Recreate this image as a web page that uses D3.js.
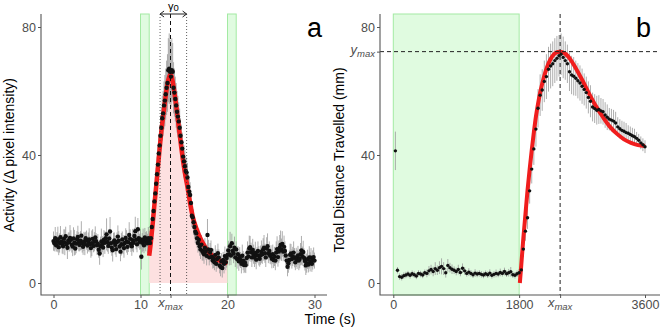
<!DOCTYPE html>
<html>
<head>
<meta charset="utf-8">
<script src="https://cdn.jsdelivr.net/npm/d3@7/dist/d3.min.js"></script>
<style>
body { margin: 0; background: #fff; }
text { font-family: "Liberation Sans", Arial, sans-serif; }
</style>
</head>
<body>
<div class="chart"></div>
<script>
// ---------- panel a : activity, sampled every 0.1 s from 0 to 30 s ----------
let stepA = 0.1
let activity = [
    13.1,12.4,14.0,11.8,12.9,13.6,11.2,12.5,14.3,13.0,12.2,
    11.5,13.8,12.7,14.6,12.1,11.0,13.3,12.8,14.1,13.5,
    12.0,11.4,13.9,12.6,10.8,12.3,13.7,14.4,12.9,11.9,
    13.2,14.8,12.5,11.3,13.0,12.2,14.0,13.4,11.7,12.8,
    13.6,12.1,10.9,12.4,13.8,11.6,12.9,14.2,13.1,11.8,
    12.3,10.4,9.2,11.5,13.0,12.2,11.1,13.5,12.6,14.0,
    15.2,12.8,11.6,13.9,16.1,12.4,11.0,10.2,12.7,13.3,
    11.9,10.6,12.8,14.5,13.2,11.4,9.8,12.1,13.6,12.0,
    10.9,12.5,14.1,13.0,11.3,12.7,15.0,13.8,12.2,11.5,
    13.4,12.6,14.7,16.2,13.5,12.1,16.8,14.0,12.9,13.6,
    8.2,12.6,13.5,11.8,14.2,12.9,13.7,12.4,14.0,13.3,
    12.5,14.0,17.5,20.0,22.5,25.5,28.0,31.0,34.0,37.0,
    40.5,43.0,46.0,48.5,51.5,53.0,55.5,57.0,59.0,61.0,
    62.5,66.5,67.0,66.0,64.5,66.5,66.0,61.0,59.5,57.5,
    55.5,53.5,52.0,50.5,48.5,46.0,44.0,42.0,39.5,38.0,
    36.5,35.0,34.5,33.0,30.0,28.5,27.5,25.0,21.0,20.5,
    19.0,17.5,16.0,15.5,14.0,12.5,13.5,11.5,10.5,12.0,
    10.0,9.5,9.0,11.0,9.8,8.5,15.0,10.5,8.0,9.5,
    10.3,8.2,7.0,7.7,6.5,8.8,6.0,7.5,9.3,8.0,
    5.5,5.1,6.8,4.7,7.2,6.0,8.4,6.5,7.8,8.8,
    10.2,9.0,11.5,8.6,12.4,10.0,9.2,11.0,8.0,10.5,
    7.5,9.0,6.8,8.2,7.2,6.0,8.5,7.0,5.6,6.4,
    5.6,7.8,9.5,8.3,10.8,11.2,9.6,8.0,10.3,9.0,
    8.0,9.4,7.3,8.7,10.0,8.5,7.6,8.7,9.8,9.0,
    10.5,11.0,9.3,8.0,10.8,11.5,9.2,10.0,8.5,8.8,
    7.6,9.0,7.2,8.3,7.0,9.5,10.6,8.1,9.8,11.0,
    11.9,10.4,12.2,9.8,11.3,10.0,8.6,7.0,5.1,6.2,
    7.2,8.8,9.2,7.5,8.3,9.5,7.9,6.5,8.0,7.4,
    8.6,7.0,7.6,9.0,10.2,8.4,9.7,7.8,6.9,5.5,
    6.2,7.4,5.8,8.0,6.6,7.9,6.0,7.2,8.1,7.0
]
let activityErr = [
    3,2.5,3.5,2,3,4,2.5,3,3.5,2,3,
    2.5,3,4,3,2,3.5,2.5,3,4,3,
    2.5,3,3.5,4,2,3,2.5,3.5,3,2,
    3,4.5,3,2.5,3,3.5,2,3,2.5,3,
    3.5,2.5,3,4,3,2,3,3.5,2.5,3,
    3,2.5,3.5,3,4,2.5,3,3,3.5,2,
    5,3,2.5,3,4.5,3,2.5,3.5,3,2.5,
    3,2.5,3,3.5,3,2,3,3.5,2.5,3,
    3,2.5,3,3.5,2.5,3,4,3,2.5,3,
    3.5,3,2.5,4.5,3,2.5,3.5,3,2.5,3,
    4,3,3.5,2.5,3,3,2.5,3,3.5,3,
    3,3.5,4,4,4.5,4.5,5,5,5.5,5.5,
    6,6,6.5,6.5,7,7,7.5,8,8,8.5,
    9,10,11,10,9.5,10,9,8,7.5,7,
    7,6.5,6.5,6,6,5.5,5.5,5,5,5,
    5,4.5,4.5,4.5,4,4,4,4,3.5,3.5,
    4,3.5,3.5,3.5,3,3,3.5,3,3,3,
    3,2.5,3,3,2.5,3,5,3,2.5,3,
    3,2.5,2.5,3,2.5,3,2.5,3,3,2.5,
    2.5,3,2.5,3,2.5,3,3,2.5,3,3,
    3,3.5,4.5,3,3,2.5,3,3.5,3,2.5,
    3,2.5,3,3,2.5,3,3.5,3,2.5,3,
    2.5,3,3.5,3,4,3.5,3,3,3.5,3,
    3,3.5,3,2.5,3,3,2.5,3,3.5,3,
    3.5,4,3,3,3.5,4,3,3,2.5,3,
    3,3,2.5,3,3,3.5,4,3,3.5,4,
    4.5,3.5,4,3,3.5,3,3,2.5,3,3,
    3,3.5,3,3,3,3.5,3,2.5,3,3,
    3,3,3,3.5,4.5,3,3.5,3,3,3,
    3,3,2.5,3.5,3,3,2.5,3,3,2.5
]
// fitted curve
let fitATime = [11.0,11.2,11.4,11.6,11.8,12.0,12.2,12.4,12.6,12.8,13.0,13.2,13.45,13.7,13.9,14.1,14.3,14.5,14.7,14.9,15.1,15.4,15.7,16.0,16.4,16.8,17.2,17.6,18.0,18.5,19.0,19.5,20.0]
let fitAValue = [8.5,13,18.5,24.5,30,36,42,47.5,52,56.5,60.5,63.5,65.2,63,59.5,55.5,51,46.5,42,38,34.5,30,25,20.8,17.2,14.5,12.3,10.5,9.2,8.0,7.1,6.6,6.2]
let stimA = [[10, 11], [20, 21]]
let xmaxA = 13.45
let gammaA = [12.25, 15.3]
let ticksXA = [0, 10, 20, 30]
let ticksY = [0, 40, 80]

// ---------- panel b : distance, every 30 s ----------
let timeB = d3.range(30, 3601, 30)
let distance = [
    41.3,
    4.0,2.0,1.8,2.3,2.5,2.8,2.4,2.9,2.6,2.2,
    3.0,2.8,2.5,3.2,3.0,3.8,4.2,3.6,4.5,4.0,
    4.8,5.2,4.5,3.2,5.5,4.8,4.3,4.0,3.6,4.2,
    3.3,4.6,3.8,3.0,3.4,3.0,2.6,3.1,2.8,3.0,
    2.7,2.5,2.9,2.6,3.1,2.4,2.7,3.0,2.8,3.3,
    3.0,3.6,2.9,3.2,3.5,2.6,2.4,2.9,3.2,
    4.1,10.6,16.2,20.4,28.8,35.6,41.9,48.1,54.6,58.7,
    60.3,63.0,64.5,66.8,67.8,68.5,69.5,70.2,71.0,71.5,
    70.5,69.5,68.5,66.0,65.0,64.6,64.0,63.2,62.5,61.5,
    60.5,59.5,58.0,56.8,55.0,54.5,54.0,54.2,53.8,53.5,
    52.5,51.8,51.2,50.9,50.6,50.0,48.8,48.2,47.7,47.4,
    47.0,46.8,46.4,46.0,45.7,45.2,44.6,43.8,43.2,42.6
]
let distanceErr = [
    6,
    1,1,1,1,1,1,1,1,1,1,
    1,1,1,1,1.2,1.5,1.5,1.5,2,1.5,
    2,2.5,2,1.5,2,1.5,1.5,1.2,1.2,1.5,
    1.2,1.5,1.2,1,1.2,1,1,1.2,1,1,
    1,1,1,1,1.2,1,1,1.2,1,1.2,
    1,1.2,1,1.2,1.5,1,1,1,1.2,
    1.5,2.5,3,3.5,4,4.5,5,5.5,6,6.5,
    6.5,6.5,7,7,7,7,7,7,6.5,6.5,
    6.5,6,6,6,6,6,5.5,5.5,5.5,5.5,
    5,5,5,5,4.5,4.5,4.5,4.5,4,4,
    4,4,3.5,3.5,3.5,3.5,3,3,3,3,
    3,2.5,2.5,2.5,2.5,2,2,2,2,2
]
let fitBTime = [1810,1830,1860,1890,1920,1950,1980,2010,2040,2070,2100,2150,2200,2250,2300,2350,2386,2450,2500,2550,2600,2700,2800,2900,3000,3100,3200,3300,3400,3500,3600]
let fitBValue = [0,5.5,14,21.5,29,35.5,41.5,47,52,56,59.5,64,67.5,70,71.5,72.2,72.3,71.8,70.8,69.3,67.5,63.5,59.2,55.2,51.8,48.8,46.6,44.9,43.8,43.1,42.8]
let stimB = [0, 1800]
let xmaxB = 2386
let ymaxB = 72.3
let ticksXB = [0, 1800, 3600]

//global sizes
let svgWidth = 660
let svgHeight = 329
let plotTop = 14, plotBottom = 295

let svg = d3.select('.chart')
    .append('svg')
    .attr('width', svgWidth)
    .attr('height', svgHeight)

let yScale = d3.scaleLinear().domain([0, 80]).range([283, 27])
let xA = d3.scaleLinear().domain([0, 30]).range([53.5, 314.5])
let xB = d3.scaleLinear().domain([0, 3600]).range([393.3, 645])

let red = '#f01d1d'
let greenFill = '#e0fbe0', greenLine = '#a3eaa3'
let axisGrey = '#555'

// ---------------- panel a ----------------
let pa = svg.append('g')

stimA.forEach(s => {
    pa.append('rect')
        .attr('x', xA(s[0]))
        .attr('y', plotTop)
        .attr('width', xA(s[1]) - xA(s[0]))
        .attr('height', plotBottom - plotTop)
        .attr('fill', greenFill)
        .attr('stroke', greenLine)
        .attr('stroke-width', 1)
})

let fitA = fitATime.map((t, i) => ({t: t, v: fitAValue[i]}))

pa.append('path')
    .attr('d', d3.area()
        .x(d => xA(d.t))
        .y0(yScale(0))
        .y1(d => yScale(d.v))
        .curve(d3.curveMonotoneX)(fitA))
    .attr('fill', '#fde0e0')

let ptsA = activity.map((v, i) => ({t: i * stepA, v: v, e: activityErr[i]}))

pa.selectAll('.errA')
    .data(ptsA)
    .enter().append('line')
    .attr('x1', d => xA(d.t)).attr('x2', d => xA(d.t))
    .attr('y1', d => yScale(d.v - d.e)).attr('y2', d => yScale(d.v + d.e))
    .attr('stroke', '#999')
    .attr('stroke-width', 0.8)

pa.append('path')
    .attr('d', d3.line()
        .x(d => xA(d.t))
        .y(d => yScale(d.v))
        .curve(d3.curveMonotoneX)(fitA))
    .attr('fill', 'none')
    .attr('stroke', red)
    .attr('stroke-width', 4.5)

pa.selectAll('.ptA')
    .data(ptsA)
    .enter().append('circle')
    .attr('cx', d => xA(d.t))
    .attr('cy', d => yScale(d.v))
    .attr('r', 2.2)
    .attr('fill', '#111')

// gamma0 dotted lines and xmax dashed line
gammaA.forEach(g => {
    pa.append('line')
        .attr('x1', xA(g)).attr('x2', xA(g))
        .attr('y1', plotTop).attr('y2', plotBottom)
        .attr('stroke', '#333')
        .attr('stroke-width', 0.8)
        .attr('stroke-dasharray', '1,2')
})
pa.append('line')
    .attr('x1', xA(xmaxA)).attr('x2', xA(xmaxA))
    .attr('y1', plotTop).attr('y2', plotBottom)
    .attr('stroke', '#111')
    .attr('stroke-width', 1)
    .attr('stroke-dasharray', '4,3')

// double arrow for gamma0
let ax1 = xA(gammaA[0]), ax2 = xA(gammaA[1])
pa.append('path')
    .attr('d', `M${ax1},${plotTop}H${ax2}M${ax1 + 4},${plotTop - 3}L${ax1},${plotTop}L${ax1 + 4},${plotTop + 3}M${ax2 - 4},${plotTop - 3}L${ax2},${plotTop}L${ax2 - 4},${plotTop + 3}`)
    .attr('fill', 'none')
    .attr('stroke', '#222')
    .attr('stroke-width', 1)
let gLab = pa.append('text')
    .attr('x', (ax1 + ax2) / 2)
    .attr('y', 9.5)
    .attr('text-anchor', 'middle')
    .style('font-size', '11px')
gLab.append('tspan').text('γ')
gLab.append('tspan').attr('dy', 1).style('font-size', '9.5px').text('0')

// axes a
let yAxisA = d3.axisLeft(yScale).tickValues(ticksY).tickSize(3).tickPadding(2)
pa.append('g').attr('transform', 'translate(41,0)').call(yAxisA)
let xAxisA = d3.axisBottom(xA).tickValues(ticksXA.concat([xmaxA])).tickSize(3).tickPadding(2)
    .tickFormat(d => d === xmaxA ? '' : d)
pa.append('g').attr('transform', `translate(0,${plotBottom})`).call(xAxisA)
pa.append('path').attr('d', `M41,${plotTop}V${plotBottom}H327`).attr('fill', 'none')
    .attr('stroke', axisGrey).attr('stroke-width', 1.1)

// ---------------- panel b ----------------
let pb = svg.append('g')

pb.append('rect')
    .attr('x', xB(stimB[0]))
    .attr('y', plotTop)
    .attr('width', xB(stimB[1]) - xB(stimB[0]))
    .attr('height', plotBottom - plotTop)
    .attr('fill', greenFill)
    .attr('stroke', greenLine)
    .attr('stroke-width', 1)

let ptsB = distance.map((v, i) => ({t: timeB[i], v: v, e: distanceErr[i]}))

pb.selectAll('.errB')
    .data(ptsB)
    .enter().append('line')
    .attr('x1', d => xB(d.t)).attr('x2', d => xB(d.t))
    .attr('y1', d => yScale(d.v - d.e)).attr('y2', d => yScale(d.v + d.e))
    .attr('stroke', '#999')
    .attr('stroke-width', 0.8)

let fitB = fitBTime.map((t, i) => ({t: t, v: fitBValue[i]}))
pb.append('path')
    .attr('d', d3.line()
        .x(d => xB(d.t))
        .y(d => yScale(d.v))
        .curve(d3.curveMonotoneX)(fitB))
    .attr('fill', 'none')
    .attr('stroke', red)
    .attr('stroke-width', 4)

pb.selectAll('.ptB')
    .data(ptsB)
    .enter().append('circle')
    .attr('cx', d => xB(d.t))
    .attr('cy', d => yScale(d.v))
    .attr('r', 1.7)
    .attr('fill', '#111')

pb.append('line')
    .attr('x1', xB(xmaxB)).attr('x2', xB(xmaxB))
    .attr('y1', plotTop).attr('y2', plotBottom)
    .attr('stroke', '#222').attr('stroke-width', 1)
    .attr('stroke-dasharray', '4,3')
pb.append('line')
    .attr('x1', 380).attr('x2', 660)
    .attr('y1', yScale(ymaxB)).attr('y2', yScale(ymaxB))
    .attr('stroke', '#222').attr('stroke-width', 1)
    .attr('stroke-dasharray', '4,3')

let yAxisB = d3.axisLeft(yScale).tickValues(ticksY.concat([ymaxB])).tickSize(3).tickPadding(2)
    .tickFormat(d => d === ymaxB ? '' : d)
pb.append('g').attr('transform', 'translate(380,0)').call(yAxisB)
let xAxisB = d3.axisBottom(xB).tickValues(ticksXB.concat([xmaxB])).tickSize(3).tickPadding(2)
    .tickFormat(d => d === xmaxB ? '' : d)
pb.append('g').attr('transform', `translate(0,${plotBottom})`).call(xAxisB)
pb.append('path').attr('d', `M380,${plotTop}V${plotBottom}H660`).attr('fill', 'none')
    .attr('stroke', axisGrey).attr('stroke-width', 1.1)

// axis styling
svg.selectAll('.domain').remove()
svg.selectAll('.tick line').attr('stroke', axisGrey)
svg.selectAll('.tick text')
    .attr('fill', '#4d4d4d')
    .style('font-size', '12.5px')
    .style('font-family', '"Liberation Sans", Arial, sans-serif')

// italic max labels
function maxLabel(g, x, y, letter, anchor) {
    let t = g.append('text')
        .attr('x', x).attr('y', y)
        .attr('text-anchor', anchor)
        .attr('fill', '#4d4d4d')
        .style('font-style', 'italic')
        .style('font-size', '13px')
    t.append('tspan').text(letter)
    t.append('tspan').attr('dy', 3).style('font-size', '9.5px').text('max')
}
maxLabel(pa, xA(xmaxA), 307, 'x', 'middle')
maxLabel(pb, xB(xmaxB), 307, 'x', 'middle')
maxLabel(pb, 375, yScale(ymaxB) + 2, 'y', 'end')

// titles
svg.append('text')
    .attr('transform', 'translate(14,155) rotate(-90)')
    .attr('text-anchor', 'middle')
    .style('font-size', '14px')
    .text('Activity (Δ pixel intensity)')
svg.append('text')
    .attr('transform', 'translate(344,160) rotate(-90)')
    .attr('text-anchor', 'middle')
    .style('font-size', '14px')
    .text('Total Distance Travelled (mm)')
svg.append('text')
    .attr('x', 330).attr('y', 324)
    .attr('text-anchor', 'middle')
    .style('font-size', '14px')
    .text('Time (s)')

svg.append('text').attr('x', 307).attr('y', 37).style('font-size', '27px').text('a')
svg.append('text').attr('x', 636).attr('y', 37).style('font-size', '27px').text('b')
</script>
</body>
</html>
